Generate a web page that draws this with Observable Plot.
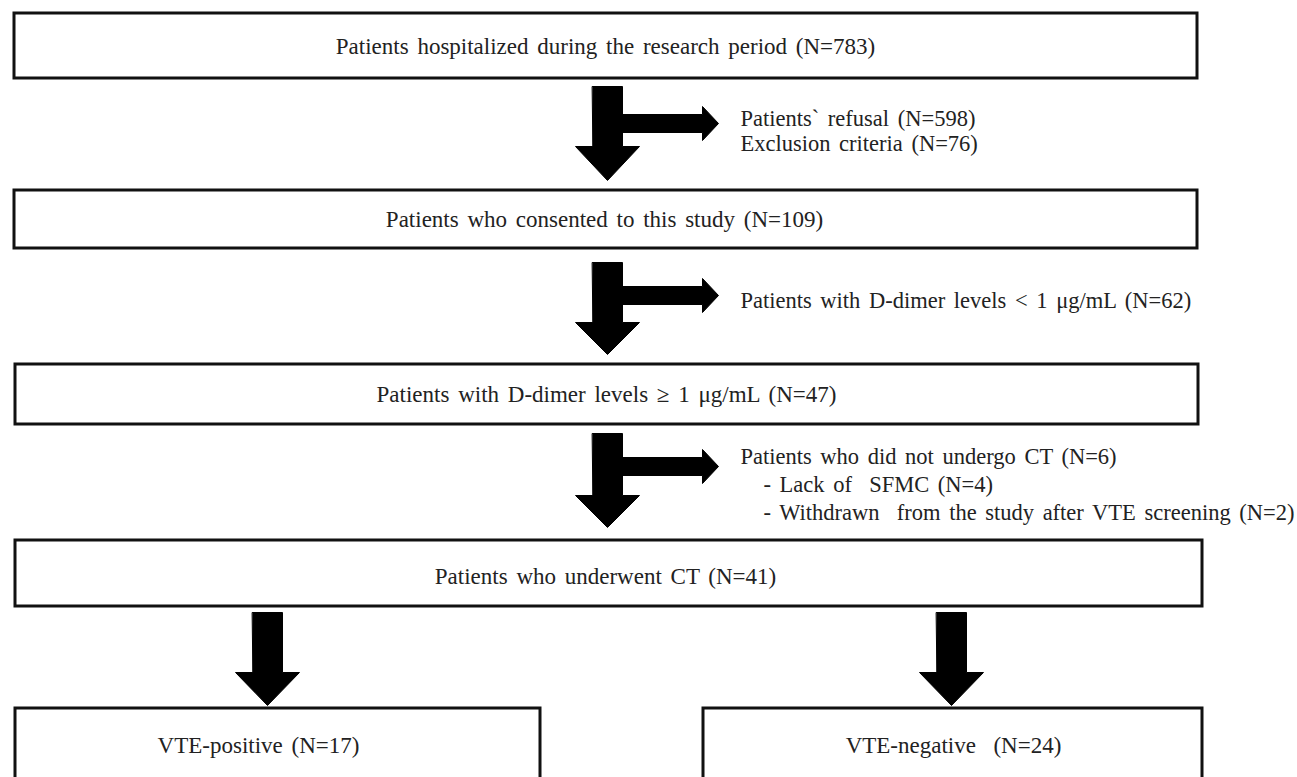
<!DOCTYPE html>
<html><head><meta charset="utf-8">
<script src="https://cdn.jsdelivr.net/npm/d3@7"></script>
<script src="https://cdn.jsdelivr.net/npm/@observablehq/plot@0.6"></script>
<style>html,body{margin:0;padding:0;background:#fff;overflow:hidden} #chart svg{display:block} #chart text{white-space:pre}</style>
</head><body><div id="chart"></div>
<script>
// ---- data ----
const stageLabels = [
  "Patients hospitalized during the research period",
  "Patients who consented to this study",
  "Patients with D-dimer levels \u2265 1 \u03bcg/mL",
  "Patients who underwent CT",
  "VTE-positive",
  "VTE-negative "
];
const stageN = [783, 109, 47, 41, 17, 24];

const exclusion1Labels = ["Patients` refusal", "Exclusion criteria"];
const exclusion1N = [598, 76];
const exclusion2Labels = ["Patients with D-dimer levels < 1 \u03bcg/mL"];
const exclusion2N = [62];
const exclusion3Labels = ["Patients who did not undergo CT", "- Lack of  SFMC", "- Withdrawn  from the study after VTE screening"];
const exclusion3N = [6, 4, 2];

// ---- layout (positions only) ----
const boxLayout = [
  {x1: 14, x2: 1197, y1: 13, y2: 78, tx: 605, ty: 46},
  {x1: 14, x2: 1197, y1: 190, y2: 248, tx: 604, ty: 219},
  {x1: 15, x2: 1198, y1: 364, y2: 424, tx: 606, ty: 394},
  {x1: 15, x2: 1202, y1: 540, y2: 606, tx: 605, ty: 576},
  {x1: 15, x2: 540, y1: 708, y2: 780, tx: 258, ty: 745},
  {x1: 703, x2: 1202, y1: 708, y2: 780, tx: 953, ty: 745}
];
const boxes = boxLayout.map((b, i) => ({...b, label: `${stageLabels[i]} (N=${stageN[i]})`}));

// down arrows: centre x, top, head start, tip ; side arrows: y centre
const downArrows = [
  {cx: 607, top: 86, head: 146, tip: 180, side: 123},
  {cx: 607, top: 262, head: 322, tip: 354, side: 295},
  {cx: 607, top: 433, head: 495, tip: 527, side: 466},
  {cx: 267, top: 612, head: 672, tip: 705},
  {cx: 951, top: 612, head: 672, tip: 705}
];
const sw = 15, hw = 32, ssw = 9, shw = 17, sideHead = 702, sideTip = 718;
const polys = [];
downArrows.forEach((a, i) => {
  const pts = [[a.cx - sw, a.top], [a.cx + sw, a.top], [a.cx + sw, a.head], [a.cx + hw, a.head],
               [a.cx, a.tip], [a.cx - hw, a.head], [a.cx - sw, a.head]];
  pts.forEach(([x, y]) => polys.push({id: "d" + i, x, y}));
  if (a.side != null) {
    const s = [[a.cx + sw - 2, a.side - ssw], [sideHead, a.side - ssw], [sideHead, a.side - shw], [sideTip, a.side],
               [sideHead, a.side + shw], [sideHead, a.side + ssw], [a.cx + sw - 2, a.side + ssw]];
    s.forEach(([x, y]) => polys.push({id: "s" + i, x, y}));
  }
});

const sideTexts = [];
exclusion1Labels.forEach((l, i) => sideTexts.push({x: 740, y: [118, 143][i], text: `${l} (N=${exclusion1N[i]})`}));
exclusion2Labels.forEach((l, i) => sideTexts.push({x: 740, y: 300, text: `${l} (N=${exclusion2N[i]})`}));
exclusion3Labels.forEach((l, i) => sideTexts.push({x: [740, 763, 763][i], y: [456, 484, 512][i], text: `${l} (N=${exclusion3N[i]})`}));

const plot = Plot.plot({
  width: 1297, height: 777, margin: 0,
  x: {domain: [0, 1297], range: [0, 1297], axis: null},
  y: {domain: [0, 777], range: [0, 777], axis: null},
  style: {background: "white", fontFamily: "'Liberation Serif', 'Times New Roman', serif", overflow: "hidden", wordSpacing: "3px"},
  marks: [
    Plot.rect(boxes, {x1: "x1", x2: "x2", y1: "y1", y2: "y2", fill: "white", stroke: "#111", strokeWidth: 3}),
    Plot.line(polys, {x: "x", y: "y", z: "id", fill: "#000", stroke: "#000", strokeWidth: 1, curve: "linear-closed"}),
    Plot.text(boxes, {x: "tx", y: "ty", text: "label", fontSize: 23, fill: "#222"}),
    Plot.text(sideTexts, {x: "x", y: "y", text: "text", fontSize: 22.5, textAnchor: "start", fill: "#222"})
  ]
});
document.getElementById("chart").appendChild(plot);
</script>
</body></html>
